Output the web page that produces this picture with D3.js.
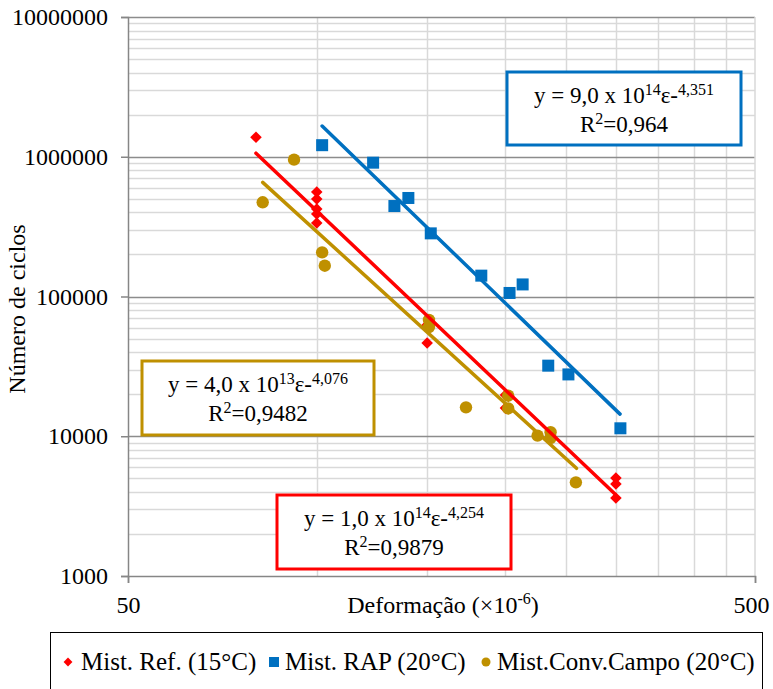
<!DOCTYPE html>
<html>
<head>
<meta charset="utf-8">
<script src="https://cdn.jsdelivr.net/npm/d3@7"></script>
<style>
  body { margin: 0; background: #fff; }
  svg text { font-family: "Liberation Serif", "Times New Roman", serif; fill: #000; }
</style>
</head>
<body>
<div id="chart"></div>
<script>
// Mist. Ref. (15°C)
const refX = [80, 100, 100, 100, 100, 100, 150, 150, 200, 200, 300, 300, 300];
const refY = [1.38e6, 5.6e5, 4.99e5, 4.23e5, 3.89e5, 3.36e5, 6.25e4, 4.65e4, 1.97e4, 1.59e4, 5.03e3, 4.55e3, 3.61e3];
// Mist. RAP (20°C)
const rapX = [102, 123, 133, 140, 152, 183, 203, 213, 234, 252, 305];
const rapY = [1.21e6, 9.07e5, 4.44e5, 5.07e5, 2.83e5, 1.41e5, 1.06e5, 1.22e5, 3.2e4, 2.77e4, 1.14e4];
// Mist.Conv.Campo (20°C)
const campoX = [82, 92, 102, 103, 151, 151, 173, 202, 202, 225, 236, 236, 259];
const campoY = [4.72e5, 9.53e5, 2.07e5, 1.66e5, 6.79e4, 6.05e4, 1.61e4, 1.95e4, 1.58e4, 1.01e4, 1.07e4, 9.7e3, 4.68e3];

// trend line end points [x, y]
const refTrend = [[80, 1.06e6], [299, 3.86e3]];
const rapTrend = [[102, 1.66e6], [304.6, 1.44e4]];
const campoTrend = [[82, 6.56e5], [259.6, 5.9e3]];

const yTicks = [1000, 10000, 100000, 1000000, 10000000];
const xTicks = [50, 500];

const series = [
  { name: "Mist. Ref. (15°C)", x: refX, y: refY, trend: refTrend, color: "#FF0000", shape: "diamond",
    coef: "1,0 x 10", exp: "14", pow: "4,254", r2: "0,9879" },
  { name: "Mist. RAP (20°C)", x: rapX, y: rapY, trend: rapTrend, color: "#0070C0", shape: "square",
    coef: "9,0 x 10", exp: "14", pow: "4,351", r2: "0,964" },
  { name: "Mist.Conv.Campo (20°C)", x: campoX, y: campoY, trend: campoTrend, color: "#BF9000", shape: "circle",
    coef: "4,0 x 10", exp: "13", pow: "4,076", r2: "0,9482" }
];

const W = 773, H = 689;
const plot = { left: 128, right: 755, top: 17, bottom: 576 };

const svg = d3.select("#chart").append("svg")
  .attr("width", W).attr("height", H);

const x = d3.scaleLog().domain([50, 500]).range([plot.left, plot.right]);
const y = d3.scaleLog().domain([1000, 10000000]).range([plot.bottom, plot.top]);

// minor gridlines (Excel puts them at base multiples)
const xMinor = d3.range(2, 10).map(k => 50 * k);
svg.append("g").selectAll("line").data(xMinor).join("line")
  .attr("x1", d => Math.round(x(d)) + 0.5).attr("x2", d => Math.round(x(d)) + 0.5)
  .attr("y1", plot.top).attr("y2", plot.bottom)
  .attr("stroke", "#d9d9d9").attr("stroke-width", 1.5);

const yMinor = [];
yTicks.slice(0, -1).forEach(t => d3.range(2, 10).forEach(k => yMinor.push(t * k)));
svg.append("g").selectAll("line").data(yMinor).join("line")
  .attr("x1", plot.left).attr("x2", plot.right)
  .attr("y1", d => Math.round(y(d)) + 0.5).attr("y2", d => Math.round(y(d)) + 0.5)
  .attr("stroke", "#d9d9d9").attr("stroke-width", 1.5);

// major gridlines
svg.append("g").selectAll("line").data(yTicks.slice(1)).join("line")
  .attr("x1", plot.left).attr("x2", plot.right)
  .attr("y1", d => Math.round(y(d)) + 0.5).attr("y2", d => Math.round(y(d)) + 0.5)
  .attr("stroke", "#8c8c8c").attr("stroke-width", 1.5);
svg.append("line")
  .attr("x1", x(500)).attr("x2", x(500)).attr("y1", plot.top).attr("y2", plot.bottom)
  .attr("stroke", "#d9d9d9").attr("stroke-width", 1.5);

// axes
const yAxis = d3.axisLeft(y).tickValues(yTicks).tickFormat(d3.format("d")).tickSize(7);
const gy = svg.append("g").attr("transform", `translate(${plot.left},0)`).call(yAxis);
gy.select(".domain").attr("stroke", "#868686").attr("stroke-width", 1.5);
gy.selectAll(".tick line").attr("stroke", "#868686").attr("stroke-width", 1.5);
gy.selectAll(".tick text").attr("font-size", 24).attr("x", -20)
  .style("font-family", "Liberation Serif");

const xAxis = d3.axisBottom(x).tickValues(xTicks).tickFormat(d3.format("d")).tickSize(7);
const gx = svg.append("g").attr("transform", `translate(0,${plot.bottom})`).call(xAxis);
gx.select(".domain").attr("stroke", "#868686").attr("stroke-width", 1.5);
gx.selectAll(".tick line").attr("stroke", "#868686").attr("stroke-width", 1.5);
gx.selectAll(".tick text").attr("font-size", 24).attr("y", 20)
  .attr("dx", d => d === 500 ? -4 : 0)
  .style("font-family", "Liberation Serif");

// axis titles
svg.append("text")
  .attr("transform", `translate(25,309) rotate(-90)`)
  .attr("text-anchor", "middle").attr("font-size", 24)
  .text("Número de ciclos");

const xt = svg.append("text")
  .attr("x", 443).attr("y", 613).attr("text-anchor", "middle").attr("font-size", 24);
xt.append("tspan").text("Deformação (×10");
xt.append("tspan").attr("dy", -9).attr("font-size", 16).text("-6");
xt.append("tspan").attr("dy", 9).text(")");

// markers
function marker(sel, shape, color) {
  if (shape === "diamond") {
    sel.append("path").attr("d", d3.symbol(d3.symbolDiamond2, 85)()).attr("fill", color);
  } else if (shape === "square") {
    sel.append("rect").attr("x", -6).attr("y", -6).attr("width", 12).attr("height", 12).attr("fill", color);
  } else {
    sel.append("circle").attr("r", 6.2).attr("fill", color);
  }
}

series.forEach(s => {
  const pts = s.x.map((v, i) => [v, s.y[i]]);
  svg.append("g").selectAll("g").data(pts).join("g")
    .attr("transform", d => `translate(${x(d[0])},${y(d[1])})`)
    .each(function () { marker(d3.select(this), s.shape, s.color); });
});

// trend lines on top of markers
const line = d3.line().x(d => x(d[0])).y(d => y(d[1]));
series.forEach(s => {
  svg.append("path").attr("d", line(s.trend))
    .attr("fill", "none").attr("stroke", s.color).attr("stroke-width", 3.5)
    .attr("stroke-linecap", "round");
});

// equation boxes
const boxes = [
  { s: series[0], x0: 277, y0: 495, x1: 511, y1: 569 },
  { s: series[1], x0: 507, y0: 72, x1: 741, y1: 145 },
  { s: series[2], x0: 142, y0: 361, x1: 374, y1: 435 }
];
boxes.forEach(b => {
  svg.append("rect")
    .attr("x", b.x0).attr("y", b.y0).attr("width", b.x1 - b.x0).attr("height", b.y1 - b.y0)
    .attr("fill", "#fff").attr("stroke", b.s.color).attr("stroke-width", 3);
  const cx = (b.x0 + b.x1) / 2;
  const t1 = svg.append("text").attr("x", cx).attr("y", b.y0 + 31)
    .attr("text-anchor", "middle").attr("font-size", 23);
  t1.append("tspan").text("y = " + b.s.coef);
  t1.append("tspan").attr("dy", -8).attr("font-size", 16).text(b.s.exp);
  t1.append("tspan").attr("dy", 8).text("ε-");
  t1.append("tspan").attr("dy", -8).attr("font-size", 16).text(b.s.pow);
  const t2 = svg.append("text").attr("x", cx).attr("y", b.y0 + 60)
    .attr("text-anchor", "middle").attr("font-size", 23);
  t2.append("tspan").text("R");
  t2.append("tspan").attr("dy", -8).attr("font-size", 16).text("2");
  t2.append("tspan").attr("dy", 8).text("=" + b.s.r2);
});

// legend
svg.append("rect").attr("x", 50.5).attr("y", 632.5).attr("width", 712).attr("height", 70)
  .attr("fill", "none").attr("stroke", "#000").attr("stroke-width", 1);
const legX = [68, 274, 486];
series.forEach((s, i) => {
  const g = svg.append("g").attr("transform", `translate(${legX[i]},662)`);
  if (s.shape === "diamond") g.append("path").attr("d", d3.symbol(d3.symbolDiamond2, 50)()).attr("fill", s.color);
  else if (s.shape === "square") g.append("rect").attr("x", -5).attr("y", -5).attr("width", 10).attr("height", 10).attr("fill", s.color);
  else g.append("circle").attr("r", 4.5).attr("fill", s.color);
  g.append("text").attr("x", i === 0 ? 13 : 11).attr("y", 8).attr("font-size", 25).text(s.name);
});
</script>
</body>
</html>
